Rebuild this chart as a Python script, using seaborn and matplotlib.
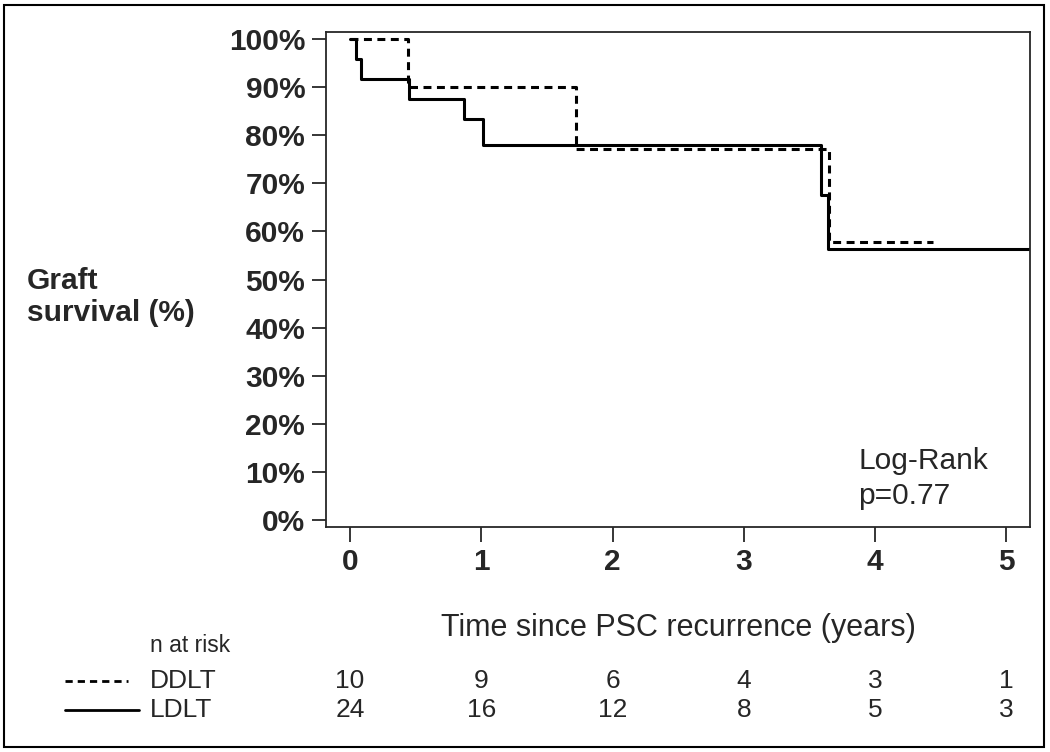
import numpy as np
import pandas as pd
import matplotlib
matplotlib.use("Agg")
import matplotlib.pyplot as plt
import seaborn as sns
from matplotlib.patches import Rectangle

# Kaplan-Meier step curves (years, % graft survival)
ddlt_time = [0, 0.44, 1.72, 3.65, 4.44]
ddlt_surv = [100, 90.0, 77.1, 57.8, 57.8]
ldlt_time = [0, 0.043, 0.084, 0.45, 0.87, 1.01, 3.59, 3.64, 5.3]
ldlt_surv = [100, 95.8, 91.7, 87.5, 83.3, 77.9, 67.6, 56.3, 56.3]

# numbers at risk
risk_times = [0, 1, 2, 3, 4, 5]
ddlt_risk = [10, 9, 6, 4, 3, 1]
ldlt_risk = [24, 16, 12, 8, 5, 3]

groups = ["DDLT", "LDLT"]
y_ticks = [0, 10, 20, 30, 40, 50, 60, 70, 80, 90, 100]

df = pd.concat([
    pd.DataFrame({"time": ddlt_time, "surv": ddlt_surv, "group": "DDLT"}),
    pd.DataFrame({"time": ldlt_time, "surv": ldlt_surv, "group": "LDLT"}),
], ignore_index=True)

sns.set_style("ticks")
plt.rcParams["font.family"] = ["Liberation Sans", "DejaVu Sans"]

fig = plt.figure(figsize=(10.5, 7.52), dpi=100)
ax = fig.add_axes([326 / 1050, 1 - 527 / 752, 704 / 1050, 495 / 752])

dash = (2.6, 1.8)
sns.lineplot(data=df, x="time", y="surv", style="group", style_order=groups,
             dashes={"DDLT": dash, "LDLT": ""}, color="black",
             drawstyle="steps-post", estimator=None, sort=False,
             linewidth=2.2, legend=False, ax=ax)

ax.set_xlim(-0.183, 5.18)
ax.set_ylim(-1.45, 101.45)
ax.set_xticks(risk_times)
ax.set_yticks(y_ticks)
ax.set_yticklabels([f"{v}%" for v in y_ticks])
for lab in ax.get_xticklabels() + ax.get_yticklabels():
    lab.set_fontweight("bold")
    lab.set_fontsize(21.5)
ax.tick_params(axis="x", length=11, width=1.3, pad=4, direction="out")
ax.tick_params(axis="y", length=10, width=1.3, pad=5, direction="out")
for s in ax.spines.values():
    s.set_visible(True)
    s.set_linewidth(1.3)
ax.set_xlabel("")
ax.set_ylabel("")

ax.text(3.87, 12.2, "Log-Rank", fontsize=21.5, ha="left", va="center")
ax.text(3.87, 5.0, "p=0.77", fontsize=21.5, ha="left", va="center")

fig.text(27 / 1050, 1 - 297 / 752, "Graft\nsurvival (%)", fontsize=21.5,
         fontweight="bold", ha="left", va="center", linespacing=1.2)
fig.text(678 / 1050, 1 - 628 / 752, "Time since PSC recurrence (years)",
         fontsize=22, ha="center", va="center")

# risk table
fig.text(150 / 1050, 1 - 646 / 752, "n at risk", fontsize=16.5,
         ha="left", va="center")
row_y = {"DDLT": 1 - 681 / 752, "LDLT": 1 - 710 / 752}
row_counts = {"DDLT": ddlt_risk, "LDLT": ldlt_risk}
row_style = {"DDLT": (0, dash), "LDLT": "-"}
row_end = {"DDLT": 128, "LDLT": 139}
for g in groups:
    yy = row_y[g]
    fig.add_artist(plt.Line2D([65 / 1050, row_end[g] / 1050], [yy, yy],
                              color="black", linewidth=2.0,
                              linestyle=row_style[g], transform=fig.transFigure))
    fig.text(150 / 1050, yy, g, fontsize=19, ha="left", va="center")
    for t, n in zip(risk_times, row_counts[g]):
        xf = ax.transData.transform((t, 0))[0] / fig.bbox.width
        fig.text(xf, yy, str(n), fontsize=19, ha="center", va="center")

# outer frame
fig.add_artist(Rectangle((4 / 1050, 1 - 747 / 752), 1040 / 1050, 742 / 752,
                         transform=fig.transFigure, fill=False,
                         edgecolor="black", linewidth=1.5))

fig.savefig("out.png", dpi=100)
